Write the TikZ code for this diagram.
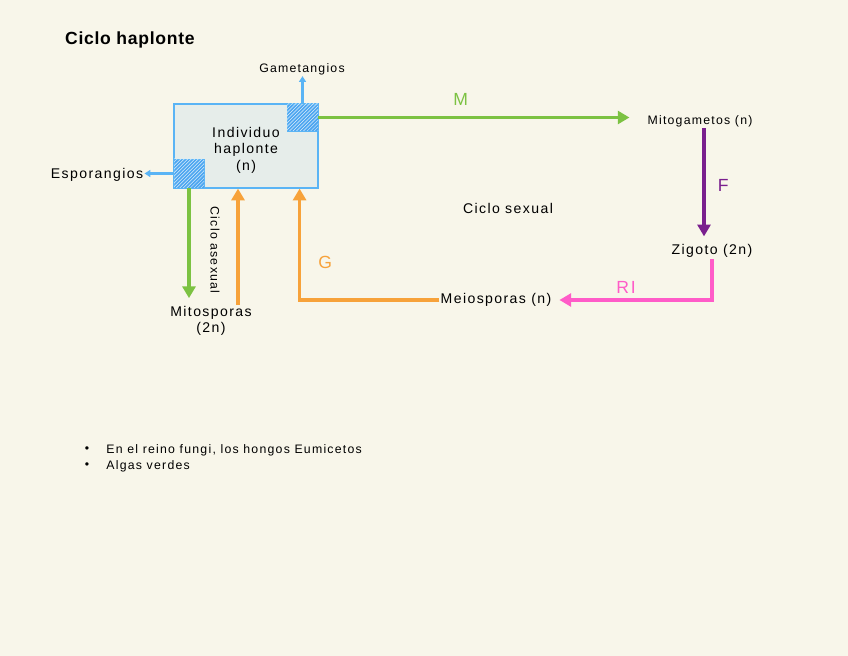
\documentclass[tikz,border=0pt]{standalone}
\usepackage{fontspec}
\setmainfont[LetterSpace=10]{Liberation Sans}
\usetikzlibrary{arrows.meta,patterns,positioning}
\definecolor{bgcream}{HTML}{F8F6EA}
\definecolor{boxfill}{HTML}{E6EDEA}
\definecolor{boxblue}{HTML}{5AB4F5}
\definecolor{hatchblue}{HTML}{4DA6F0}
\definecolor{mgreen}{HTML}{7CC242}
\definecolor{gorange}{HTML}{F7A23A}
\definecolor{fpurple}{HTML}{7A1F8E}
\definecolor{rpink}{HTML}{FF5CC8}
\begin{document}
\begin{tikzpicture}[x=0.3mm, y=-0.3mm,
  lbl/.style={font=\fontsize{12}{14}\selectfont, align=center, inner sep=1pt},
  small/.style={font=\fontsize{10.5}{12}\selectfont, inner sep=1pt},
  hand/.style={font=\fontsize{15}{16}\selectfont},
  flow/.style={line width=2.6pt, -{Triangle[length=10pt,width=11pt]}},
  blueflow/.style={line width=1.8pt, -{Triangle[length=5pt,width=6pt]}, draw=boxblue},
  patch/.style={draw=boxblue, line width=0.6pt, fill=hatchblue,
    postaction={pattern=north east lines, pattern color=white!80!hatchblue}},
  ]
 \fill[bgcream] (0,0) rectangle (848,656);
 \node [font=\bfseries\fontsize{15}{17}\selectfont\addfontfeature{LetterSpace=4}, anchor=west] (title) at (61,40) {Ciclo haplonte};

 \node [draw=boxblue, fill=boxfill, line width=1pt, minimum width=43.2mm, minimum height=25.2mm] (ind) at (246,146) {};
 \node [lbl] (indt) at (246,150) {Individuo\\haplonte\\(n)};
 \node [patch, minimum width=9.3mm, minimum height=8.1mm, inner sep=0pt] (gh) at (302.5,117.5) {};
 \node [patch, minimum width=9mm, minimum height=8.7mm, inner sep=0pt] (eh) at (189,173.5) {};

 \node [small] (gam) at (302,69) {Gametangios};
 \node [lbl] (esp) at (97,175) {Esporangios};
 \node [small] (mitog) at (700,121) {Mitogametos (n)};
 \node [lbl] (zig) at (712,251) {Zigoto (2n)};
 \node [lbl] (meio) at (496,300) {Meiosporas (n)};
 \node [lbl] (mitosp) at (211,321) {Mitosporas\\(2n)};
 \node [lbl] (csex) at (508,208) {Ciclo sexual};
 \node [small, rotate=-90] (casex) at (215,250) {Ciclo asexual};

 \draw [blueflow] (gh.north) -- (gh.north |- gam.south);
 \draw [blueflow] (eh.west) -- (eh.west -| esp.east);

 \draw [flow, mgreen] (gh.east) -- node [hand, above=6pt, xshift=-4mm] (m) {M} ([xshift=-5mm]gh.east -| mitog.west);
 \draw [flow, fpurple, shorten >=2mm] ([xshift=1.2mm]mitog.south) -- node [hand, right=2.5mm] (f) {F} ([xshift=1.2mm]mitog.south |- zig.north);
 \draw [flow, rpink, shorten >=2mm] (zig.south) |- node [hand, pos=0.77, above=1pt] (ri) {RI} (meio.east);
 \draw [flow, gorange] (meio.west) -| node [hand, pos=0.67, right=4mm] (g) {G} ([xshift=-5.7mm]ind.south east);
 \draw [flow, gorange] ([xshift=8.1mm]mitosp.north) -- ([xshift=8.1mm]mitosp.north |- ind.south);
 \draw [flow, mgreen, shorten >=2mm] (eh.south) -- (eh.south |- mitosp.north);

 \node [small] (b1) at (87,450) {•};
 \node [small] (b2) at (87,466) {•};
 \node [small, anchor=west] (t1) at (105,450) {En el reino fungi, los hongos Eumicetos};
 \node [small, anchor=west] (t2) at (105,466) {Algas verdes};
\end{tikzpicture}
\end{document}
